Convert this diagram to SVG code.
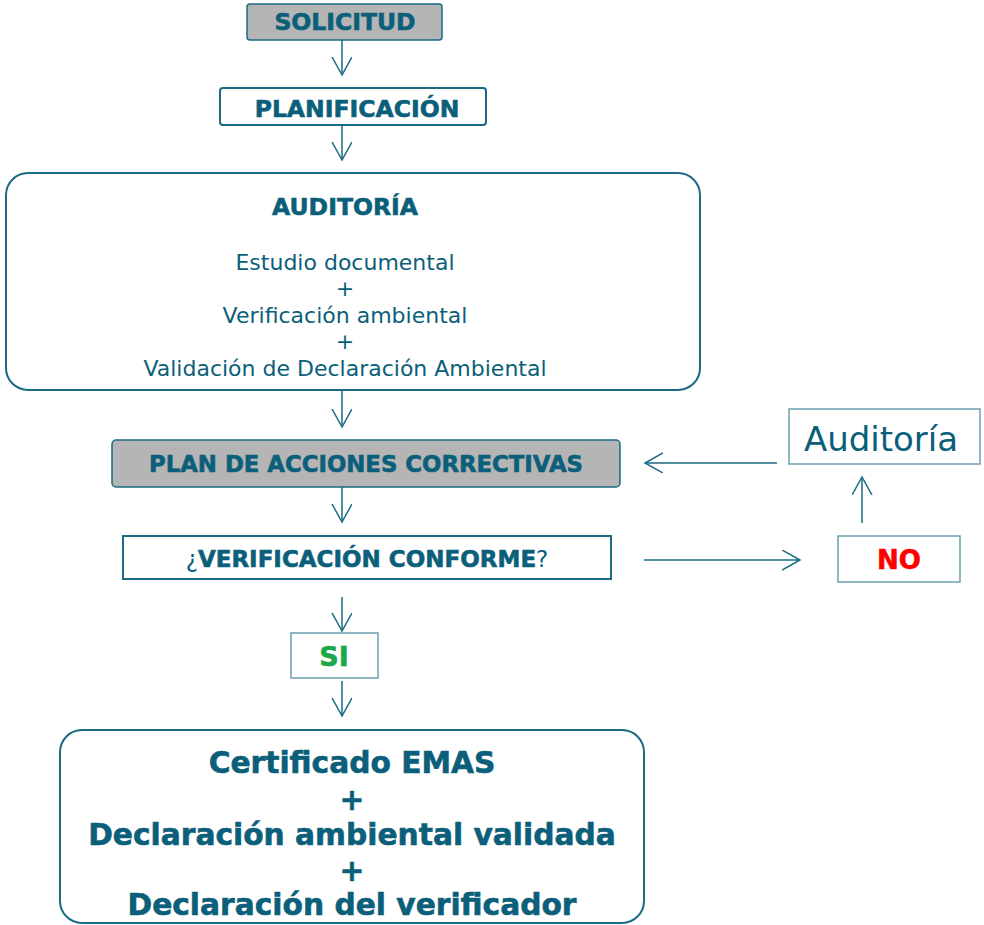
<svg xmlns="http://www.w3.org/2000/svg" width="984" height="925" viewBox="0 0 984 925">
<style>
text{font-family:"DejaVu Sans",Verdana,sans-serif;fill:#0b5f7a;text-anchor:middle}
.b{font-weight:bold;stroke:#0b5f7a;stroke-width:0.6}
.box{fill:#fff;stroke:#1a6a84;stroke-width:2}
.gray{fill:#b5b5b5;stroke:#1a6a84;stroke-width:1.5}
.thin{fill:#fff;stroke:#6b9fb0;stroke-width:1.5}
.c{stroke:#1a6a84;stroke-width:1.5;fill:none}
</style>
<defs>
<marker id="ah" markerWidth="20" markerHeight="24" refX="18" refY="10" orient="auto" markerUnits="userSpaceOnUse">
<path d="M0,0 L18,10 L0,20" fill="none" stroke="#1a6a84" stroke-width="1.5"/>
</marker>
</defs>
<rect width="984" height="925" fill="#fff"/>
<g id="connectors">
<line class="c" x1="342" y1="40" x2="342" y2="75" marker-end="url(#ah)"/>
<line class="c" x1="342" y1="125" x2="342" y2="160" marker-end="url(#ah)"/>
<line class="c" x1="342" y1="390" x2="342" y2="427" marker-end="url(#ah)"/>
<line class="c" x1="342" y1="487" x2="342" y2="522" marker-end="url(#ah)"/>
<line class="c" x1="342" y1="597" x2="342" y2="631" marker-end="url(#ah)"/>
<line class="c" x1="342" y1="681" x2="342" y2="716" marker-end="url(#ah)"/>
<line class="c" x1="777" y1="463" x2="645" y2="463" marker-end="url(#ah)"/>
<line class="c" x1="862" y1="523" x2="862" y2="477" marker-end="url(#ah)"/>
<line class="c" x1="644" y1="560" x2="800" y2="560" marker-end="url(#ah)"/>
</g>
<g id="solicitud">
<rect class="gray" x="247" y="4" width="195" height="36" rx="3"/>
<text class="b" x="345" y="30" font-size="23.5">SOLICITUD</text>
</g>
<g id="planificacion">
<rect class="box" x="220" y="88" width="266" height="37" rx="3"/>
<text class="b" x="357" y="117" font-size="23.5">PLANIFICACIÓN</text>
</g>
<g id="auditoria">
<rect class="box" x="6" y="173" width="694" height="217" rx="22"/>
<text class="b" x="345" y="215" font-size="23.5">AUDITORÍA</text>
<text x="345" y="270" font-size="22">Estudio documental</text>
<text x="345" y="296" font-size="22">+</text>
<text x="345" y="323" font-size="22">Verificación ambiental</text>
<text x="345" y="349" font-size="22">+</text>
<text x="345" y="376" font-size="22">Validación de Declaración Ambiental</text>
</g>
<g id="plan">
<rect class="gray" x="112" y="440" width="508" height="47" rx="4"/>
<text class="b" x="366" y="472" font-size="22.8">PLAN DE ACCIONES CORRECTIVAS</text>
</g>
<g id="verificacion">
<rect class="box" x="123" y="536" width="488" height="43"/>
<text x="367" y="567" font-size="23">¿<tspan class="b">VERIFICACIÓN CONFORME</tspan>?</text>
</g>
<g id="si">
<rect class="thin" x="291" y="633" width="87" height="45"/>
<text class="b" x="334" y="666" font-size="27" style="fill:#1aa84c;stroke:#1aa84c">SI</text>
</g>
<g id="resultado">
<rect class="box" x="60" y="730" width="584" height="193" rx="22"/>
<text class="b" x="352" y="773" font-size="29.7">Certificado EMAS</text>
<text class="b" x="352" y="810" font-size="29.7">+</text>
<text class="b" x="352" y="845" font-size="29.7">Declaración ambiental validada</text>
<text class="b" x="352" y="881" font-size="29.7">+</text>
<text class="b" x="352" y="915" font-size="29.7">Declaración del verificador</text>
</g>
<g id="auditoria2">
<rect class="thin" x="789" y="409" width="191" height="55"/>
<text x="881" y="451" font-size="34">Auditoría</text>
</g>
<g id="no">
<rect class="thin" x="838" y="536" width="122" height="46"/>
<text class="b" x="899" y="569" font-size="26" style="fill:#ff0000;stroke:#ff0000">NO</text>
</g>
</svg>
